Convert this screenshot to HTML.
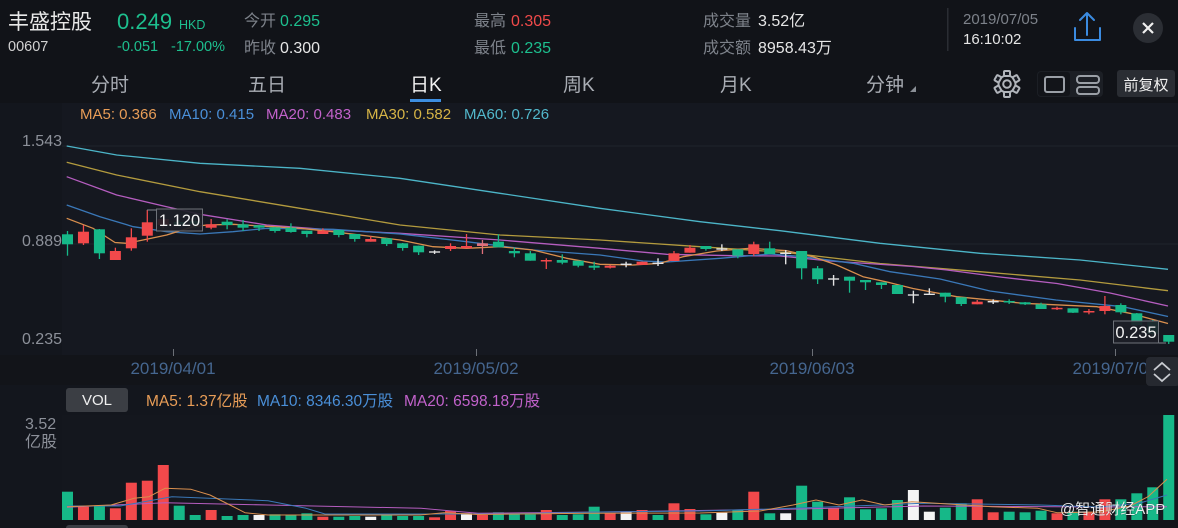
<!DOCTYPE html>
<html><head><meta charset="utf-8"><style>
html,body{margin:0;padding:0;background:#111318;}
body{width:1178px;height:528px;overflow:hidden;}
svg{display:block;font-family:"Liberation Sans","Noto Sans CJK SC",sans-serif;}
</style></head><body>
<svg width="1178" height="528" viewBox="0 0 1178 528" xmlns="http://www.w3.org/2000/svg">
<rect x="0" y="0" width="1178" height="528" fill="#111318"/>
<!-- chart panel -->
<rect x="0" y="103" width="1178" height="252" fill="#13161d"/>
<rect x="62" y="103" width="1116" height="252" fill="#151820"/>
<rect x="0" y="355" width="1178" height="30" fill="#121419"/>
<rect x="0" y="385" width="1178" height="143" fill="#13161d"/>
<rect x="62" y="415" width="1116" height="105" fill="#14171e"/>

<!-- header -->
<text x="8" y="29" font-size="21" fill="#e8e8e8">丰盛控股</text>
<text x="8" y="51" font-size="14.5" fill="#d2d2d2">00607</text>
<text x="117" y="29" font-size="22" fill="#1dbf8e">0.249</text>
<text x="179" y="29" font-size="12.5" fill="#1dbf8e">HKD</text>
<text x="117" y="51" font-size="14.5" fill="#1dbf8e">-0.051</text>
<text x="171" y="51" font-size="14.5" fill="#1dbf8e">-17.00%</text>
<g font-size="16">
<text x="244" y="26" fill="#7d828a">今开</text>
<text x="280" y="26" fill="#1dbf8e">0.295</text>
<text x="244" y="53" fill="#7d828a">昨收</text>
<text x="280" y="53" fill="#e6e6e6">0.300</text>
<text x="474" y="26" fill="#7d828a">最高</text>
<text x="511" y="26" fill="#f04a4a">0.305</text>
<text x="474" y="53" fill="#7d828a">最低</text>
<text x="511" y="53" fill="#1dbf8e">0.235</text>
<text x="703" y="26" fill="#7d828a">成交量</text>
<text x="758" y="26" fill="#e6e6e6">3.52亿</text>
<text x="703" y="53" fill="#7d828a">成交额</text>
<text x="758" y="53" fill="#e6e6e6">8958.43万</text>
</g>
<rect x="947" y="8" width="1.5" height="43" fill="#2a2d33"/>
<text x="963" y="24" font-size="15" fill="#7d828a">2019/07/05</text>
<text x="963" y="44" font-size="15" fill="#e6e6e6">16:10:02</text>
<!-- upload icon -->
<g stroke="#3b8be0" stroke-width="2" fill="none" stroke-linecap="round" stroke-linejoin="round">
<path d="M1087 35 V13 M1080 20 L1087 13 L1094 20"/>
<path d="M1075 28 V40 H1100 V28"/>
</g>
<!-- close -->
<circle cx="1148" cy="28" r="15" fill="#2b2e34"/>
<path d="M1143 23 L1153 33 M1153 23 L1143 33" stroke="#f0f0f0" stroke-width="2.2"/>

<!-- tabs -->
<g font-size="19" fill="#a9adb4">
<text x="91" y="91">分时</text>
<text x="248" y="91">五日</text>
<text x="410" y="91" fill="#f2f2f2">日K</text>
<text x="563" y="91">周K</text>
<text x="720" y="91">月K</text>
<text x="866" y="91">分钟</text>
</g>
<path d="M910 92 L916 86 L916 92 Z" fill="#8a8f96"/>
<rect x="410" y="99" width="31" height="3" fill="#3d8ee0"/>
<!-- gear -->
<g transform="translate(1007,84)" fill="none" stroke="#b0b4ba" stroke-width="2">
<circle r="8.5"/>
<circle r="3.8"/>
<g fill="#151820">
<rect x="-3" y="-13" width="6" height="5" rx="1"/>
<rect x="-3" y="-13" width="6" height="5" rx="1" transform="rotate(60)"/>
<rect x="-3" y="-13" width="6" height="5" rx="1" transform="rotate(120)"/>
<rect x="-3" y="-13" width="6" height="5" rx="1" transform="rotate(180)"/>
<rect x="-3" y="-13" width="6" height="5" rx="1" transform="rotate(240)"/>
<rect x="-3" y="-13" width="6" height="5" rx="1" transform="rotate(300)"/>
</g>
</g>
<!-- layout toggle -->
<rect x="1037" y="71" width="66" height="26" rx="4" fill="#1c1f25"/>
<rect x="1038" y="72" width="32" height="24" rx="3" fill="#121419"/>
<rect x="1045" y="77" width="19" height="15" rx="2" fill="none" stroke="#9a9fa6" stroke-width="2"/>
<rect x="1077" y="76" width="22" height="7" rx="3" fill="none" stroke="#9a9fa6" stroke-width="2"/>
<rect x="1077" y="87" width="22" height="7" rx="3" fill="none" stroke="#9a9fa6" stroke-width="2"/>
<!-- 前复权 -->
<rect x="1117" y="70" width="58" height="27" rx="3" fill="#2a2d33"/>
<text x="1146" y="90" font-size="15" fill="#f0f0f0" text-anchor="middle">前复权</text>

<!-- MA legend -->
<g font-size="15">
<text x="80" y="119" fill="#e89d57">MA5: 0.366</text>
<text x="169" y="119" fill="#4a8fd8">MA10: 0.415</text>
<text x="266" y="119" fill="#c262cb">MA20: 0.483</text>
<text x="366" y="119" fill="#d6b446">MA30: 0.582</text>
<text x="464" y="119" fill="#52b8cc">MA60: 0.726</text>
</g>

<!-- grid -->
<g stroke="#1f232b" stroke-width="1">
<line x1="62" y1="146" x2="1178" y2="146"/>
<line x1="62" y1="244" x2="1178" y2="244"/>
</g>
<!-- y labels -->
<g font-size="16" fill="#8c9099" text-anchor="end">
<text x="62" y="146">1.543</text>
<text x="62" y="246">0.889</text>
<text x="62" y="344">0.235</text>
</g>

<!-- MA lines -->
<g fill="none" stroke-width="1.3" stroke-linejoin="round">
<polyline stroke="#4cb5c8" points="66.7,146 116.7,155 200,163.3 300,168.3 400,178.3 500,193.3 600,208.3 700,221.7 780,230.7 880,243.3 980,253.3 1080,260 1168,269.3"/>
<polyline stroke="#b39b3e" points="66.7,162.3 116.7,175 200,191.7 300,208.3 400,225 500,235 600,240 700,246.7 786,252.5 880,263.5 980,271.7 1080,280 1168,290.7"/>
<polyline stroke="#b55dbf" points="66.7,176.7 116.7,195 166.7,206.7 200,214.3 266.7,225 333,230 400,233.3 500,240 600,248.3 666.7,254.3 733,255.7 780,256 830,261 913,266.5 947,270 1000,277 1057,283.5 1110,293 1168,306"/>
<polyline stroke="#3a78b8" points="66.7,205 100,216.7 133.3,226.7 166.7,231.7 200,234 233,231.7 266.7,228.3 333,229.3 400,234 466.7,241.7 533,250 600,255 643,261 666.7,262 720,258.3 770,254 803,256.7 853,263.3 890,271.7 940,279 990,291 1056,300 1123,306.7 1168,316.5"/>
<polyline stroke="#d98f4e" points="66.7,218.3 93,228.3 115,242.5 126.7,243.3 143,240 166.7,235 193,226.7 207,225 233,224.3 300,228.3 333,231.7 400,240 433,246.7 466.7,248.3 500,246.7 533,250 566.7,258.3 600,264.3 633,265 660,263.3 683,256.7 716.7,251 750,248.3 786.7,250.7 813,256.7 836.7,265 863,276.7 890,282.7 913,288.5 956.7,296.7 1023,303.3 1096.7,306.7 1130,313.3 1168,323.5"/>
</g>

<!-- green candles -->
<g fill="#16b888" stroke="#16b888" stroke-width="1.3">
<line x1="67.5" y1="231" x2="67.5" y2="255.7"/><rect x="62" y="234.3" width="11" height="10" stroke="none"/>
<line x1="99.42" y1="229" x2="99.42" y2="259"/><rect x="93.92" y="229.3" width="11" height="24" stroke="none"/>
<line x1="179.22" y1="220" x2="179.22" y2="227"/><rect x="173.72" y="222" width="11" height="3" stroke="none"/>
<line x1="195.18" y1="218" x2="195.18" y2="228"/><rect x="189.68" y="221" width="11" height="3" stroke="none"/>
<line x1="227.1" y1="219.3" x2="227.1" y2="229.3"/><rect x="221.6" y="221.7" width="11" height="3.3" stroke="none"/>
<line x1="243.06" y1="220" x2="243.06" y2="231"/><rect x="237.56" y="224.3" width="11" height="3.4" stroke="none"/>
<line x1="259.02" y1="225" x2="259.02" y2="231"/><rect x="253.52" y="225.3" width="11" height="2.4" stroke="none"/>
<line x1="274.98" y1="227" x2="274.98" y2="232.7"/><rect x="269.48" y="227.3" width="11" height="3.7" stroke="none"/>
<line x1="290.94" y1="223.3" x2="290.94" y2="232.7"/><rect x="285.44" y="227.7" width="11" height="4.3" stroke="none"/>
<line x1="306.9" y1="230.7" x2="306.9" y2="237.3"/><rect x="301.4" y="230.7" width="11" height="3.3" stroke="none"/>
<line x1="338.82" y1="230" x2="338.82" y2="237.3"/><rect x="333.32" y="230" width="11" height="5" stroke="none"/>
<line x1="354.78" y1="234" x2="354.78" y2="241.7"/><rect x="349.28" y="234" width="11" height="5" stroke="none"/>
<line x1="386.7" y1="238" x2="386.7" y2="246"/><rect x="381.2" y="238.3" width="11" height="5.7" stroke="none"/>
<line x1="402.66" y1="243" x2="402.66" y2="250.7"/><rect x="397.16" y="243.3" width="11" height="4.7" stroke="none"/>
<line x1="418.62" y1="245.7" x2="418.62" y2="255"/><rect x="413.12" y="245.7" width="11" height="6.6" stroke="none"/>
<line x1="498.42" y1="234.3" x2="498.42" y2="247.3"/><rect x="492.92" y="241.7" width="11" height="5.6" stroke="none"/>
<line x1="514.38" y1="247.7" x2="514.38" y2="257.3"/><rect x="508.88" y="251" width="11" height="2.3" stroke="none"/>
<line x1="530.34" y1="251" x2="530.34" y2="260.7"/><rect x="524.84" y="253.3" width="11" height="7.4" stroke="none"/>
<line x1="562.26" y1="254.3" x2="562.26" y2="264.3"/><rect x="556.76" y="260" width="11" height="2.7" stroke="none"/>
<line x1="578.22" y1="260.7" x2="578.22" y2="267.3"/><rect x="572.72" y="260.7" width="11" height="5" stroke="none"/>
<line x1="594.18" y1="261.7" x2="594.18" y2="270"/><rect x="588.68" y="265.7" width="11" height="2" stroke="none"/>
<line x1="705.9" y1="246" x2="705.9" y2="250.7"/><rect x="700.4" y="246" width="11" height="3" stroke="none"/>
<line x1="737.82" y1="249.3" x2="737.82" y2="258.3"/><rect x="732.32" y="249.3" width="11" height="6.4" stroke="none"/>
<line x1="769.74" y1="241.7" x2="769.74" y2="254"/><rect x="764.24" y="248.3" width="11" height="5.7" stroke="none"/>
<line x1="801.66" y1="251" x2="801.66" y2="279.3"/><rect x="796.16" y="251" width="11" height="17.3" stroke="none"/>
<line x1="817.62" y1="266" x2="817.62" y2="284"/><rect x="812.12" y="268.3" width="11" height="11" stroke="none"/>
<line x1="849.54" y1="276.7" x2="849.54" y2="292.7"/><rect x="844.04" y="276.7" width="11" height="4" stroke="none"/>
<line x1="865.5" y1="280" x2="865.5" y2="290"/><rect x="860" y="280" width="11" height="2.3" stroke="none"/>
<line x1="881.46" y1="282.3" x2="881.46" y2="289"/><rect x="875.96" y="282.3" width="11" height="2.7" stroke="none"/>
<line x1="897.42" y1="285" x2="897.42" y2="294"/><rect x="891.92" y="285" width="11" height="9" stroke="none"/>
<line x1="945.3" y1="292.7" x2="945.3" y2="302.3"/><rect x="939.8" y="292.7" width="11" height="4" stroke="none"/>
<line x1="961.26" y1="297.3" x2="961.26" y2="306"/><rect x="955.76" y="297.3" width="11" height="6.7" stroke="none"/>
<line x1="1009.14" y1="299.3" x2="1009.14" y2="304"/><rect x="1003.64" y="301" width="11" height="1.5" stroke="none"/>
<line x1="1025.1" y1="302" x2="1025.1" y2="305"/><rect x="1019.6" y="302.3" width="11" height="2" stroke="none"/>
<line x1="1041.06" y1="302.7" x2="1041.06" y2="309"/><rect x="1035.56" y="304.3" width="11" height="4.7" stroke="none"/>
<line x1="1072.98" y1="308.3" x2="1072.98" y2="313"/><rect x="1067.48" y="308.3" width="11" height="4.4" stroke="none"/>
<line x1="1120.86" y1="303.3" x2="1120.86" y2="314.3"/><rect x="1115.36" y="305" width="11" height="7.3" stroke="none"/>
<line x1="1136.82" y1="313" x2="1136.82" y2="326"/><rect x="1131.32" y="313.3" width="11" height="11.7" stroke="none"/>
<line x1="1152.78" y1="320" x2="1152.78" y2="338"/><rect x="1147.28" y="322" width="11" height="12" stroke="none"/>
<line x1="1168.74" y1="335" x2="1168.74" y2="344"/><rect x="1163.24" y="335" width="11" height="6.7" stroke="none"/>
</g>
<!-- red candles -->
<g fill="#f2494b" stroke="#f2494b" stroke-width="1.3">
<line x1="83.46" y1="225" x2="83.46" y2="245"/><rect x="77.96" y="231.7" width="11" height="11.6" stroke="none"/>
<line x1="115.38" y1="247.7" x2="115.38" y2="260"/><rect x="109.88" y="251" width="11" height="9" stroke="none"/>
<line x1="131.34" y1="228.3" x2="131.34" y2="250.7"/><rect x="125.84" y="237.3" width="11" height="11" stroke="none"/>
<line x1="147.3" y1="210" x2="147.3" y2="241.7"/><rect x="141.8" y="222.3" width="11" height="13.4" stroke="none"/>
<line x1="163.26" y1="216" x2="163.26" y2="228"/><rect x="157.76" y="219" width="11" height="6" stroke="none"/>
<line x1="211.14" y1="219" x2="211.14" y2="229.3"/><rect x="205.64" y="224.3" width="11" height="3.4" stroke="none"/>
<line x1="322.86" y1="228.3" x2="322.86" y2="234"/><rect x="317.36" y="230.7" width="11" height="3.3" stroke="none"/>
<line x1="370.74" y1="236" x2="370.74" y2="241.7"/><rect x="365.24" y="239" width="11" height="2.7" stroke="none"/>
<line x1="450.54" y1="243.3" x2="450.54" y2="251"/><rect x="445.04" y="246" width="11" height="3" stroke="none"/>
<line x1="466.5" y1="234" x2="466.5" y2="248.3"/><rect x="461" y="246" width="11" height="2.3" stroke="none"/>
<line x1="482.46" y1="240" x2="482.46" y2="254" stroke="#e0707a"/><rect x="476.96" y="243.3" width="11" height="2.7" stroke="none" fill="#e0707a"/>
<line x1="546.3" y1="258.3" x2="546.3" y2="269"/><rect x="540.8" y="260" width="11" height="1.5" stroke="none"/>
<line x1="610.14" y1="265" x2="610.14" y2="268.5"/><rect x="604.64" y="265.7" width="11" height="2" stroke="none"/>
<line x1="642.06" y1="261.7" x2="642.06" y2="265"/><rect x="636.56" y="261.7" width="11" height="3.3" stroke="none"/>
<line x1="673.98" y1="251" x2="673.98" y2="261"/><rect x="668.48" y="253.3" width="11" height="7.7" stroke="none"/>
<line x1="689.94" y1="245" x2="689.94" y2="252.7"/><rect x="684.44" y="247.7" width="11" height="5" stroke="none"/>
<line x1="753.78" y1="241.7" x2="753.78" y2="256"/><rect x="748.28" y="244.3" width="11" height="9.7" stroke="none"/>
<line x1="977.22" y1="300" x2="977.22" y2="304.3"/><rect x="971.72" y="301.7" width="11" height="2.6" stroke="none"/>
<line x1="1057.02" y1="306.7" x2="1057.02" y2="310"/><rect x="1051.52" y="307.8" width="11" height="1.5" stroke="none"/>
<line x1="1088.94" y1="309" x2="1088.94" y2="314.3"/><rect x="1083.44" y="311" width="11" height="1.5" stroke="none"/>
<line x1="1104.9" y1="296" x2="1104.9" y2="314.3"/><rect x="1099.4" y="306" width="11" height="5" stroke="none"/>
</g>
<!-- white dojis -->
<g stroke="#e2e2e2" stroke-width="1.4">
<line x1="434.58" y1="250.3" x2="434.58" y2="254"/><line x1="429.08" y1="252" x2="440.08" y2="252"/>
<line x1="626.1" y1="261.7" x2="626.1" y2="267.3"/><line x1="620.6" y1="264.3" x2="631.6" y2="264.3"/>
<line x1="658.02" y1="258.3" x2="658.02" y2="266"/><line x1="652.52" y1="263.3" x2="663.52" y2="263.3"/>
<line x1="721.86" y1="244.3" x2="721.86" y2="251"/><line x1="716.36" y1="249" x2="727.36" y2="249"/>
<line x1="785.7" y1="250" x2="785.7" y2="264.3"/><line x1="780.2" y1="253.3" x2="791.2" y2="253.3"/>
<line x1="833.58" y1="275" x2="833.58" y2="285.7"/><line x1="828.08" y1="279" x2="839.08" y2="279"/>
<line x1="913.38" y1="290.7" x2="913.38" y2="303.3"/><line x1="907.88" y1="295" x2="918.88" y2="295"/>
<line x1="929.34" y1="288.3" x2="929.34" y2="295"/><line x1="923.84" y1="294.3" x2="934.84" y2="294.3"/>
<line x1="993.18" y1="299.3" x2="993.18" y2="304"/><line x1="987.68" y1="301.7" x2="998.68" y2="301.7"/>
</g>

<!-- price labels -->
<line x1="147" y1="210" x2="157" y2="210" stroke="#80848b" stroke-width="1"/>
<rect x="156.5" y="209" width="46" height="22" fill="#1d2027" fill-opacity="0.92" stroke="#6e7279" stroke-width="1"/>
<text x="179.5" y="226" font-size="16.5" fill="#f2f2f2" text-anchor="middle">1.120</text>
<line x1="1158" y1="343" x2="1166" y2="343" stroke="#80848b" stroke-width="1"/>
<rect x="1113.5" y="321" width="45" height="22" fill="#1d2027" fill-opacity="0.92" stroke="#6e7279" stroke-width="1"/>
<text x="1136" y="338" font-size="16.5" fill="#f2f2f2" text-anchor="middle">0.235</text>

<!-- date axis -->
<g stroke="#6b6f76" stroke-width="1">
<line x1="173.5" y1="349" x2="173.5" y2="356"/>
<line x1="476.5" y1="349" x2="476.5" y2="356"/>
<line x1="812.5" y1="349" x2="812.5" y2="356"/>
<line x1="1115.5" y1="349" x2="1115.5" y2="356"/>
</g>
<g font-size="17" fill="#45668f" text-anchor="middle">
<text x="173" y="374">2019/04/01</text>
<text x="476" y="374">2019/05/02</text>
<text x="812" y="374">2019/06/03</text>
<text x="1115" y="374">2019/07/02</text>
</g>
<rect x="1146" y="357" width="34" height="29" rx="4" fill="#262930"/>
<path d="M1154 370 L1162 363 L1170 370 M1154 374 L1162 381 L1170 374" fill="none" stroke="#c8cbd0" stroke-width="1.8"/>

<!-- volume header -->
<rect x="66" y="388" width="62" height="24" rx="3" fill="#3b3e44"/>
<text x="97" y="405" font-size="15" fill="#f0f0f0" text-anchor="middle">VOL</text>
<g font-size="15.5">
<text x="146" y="406" fill="#e89d57">MA5: 1.37亿股</text>
<text x="257" y="406" fill="#4a8fd8">MA10: 8346.30万股</text>
<text x="404" y="406" fill="#c262cb">MA20: 6598.18万股</text>
</g>
<text x="25" y="429" font-size="16" fill="#8c9099">3.52</text>
<text x="25" y="447" font-size="16" fill="#8c9099">亿股</text>

<!-- volume bars -->
<g fill="#16b888">
<rect x="62" y="491.7" width="11" height="28.3"/>
<rect x="93.92" y="505.7" width="11" height="14.3"/>
<rect x="173.72" y="505.7" width="11" height="14.3"/>
<rect x="189.68" y="515" width="11" height="5"/>
<rect x="221.6" y="516" width="11" height="4"/>
<rect x="237.56" y="515" width="11" height="5"/>
<rect x="269.48" y="514.3" width="11" height="5.7"/>
<rect x="285.44" y="515" width="11" height="5"/>
<rect x="301.4" y="513.3" width="11" height="6.7"/>
<rect x="333.32" y="516.7" width="11" height="3.3"/>
<rect x="349.28" y="516" width="11" height="4"/>
<rect x="381.2" y="514.3" width="11" height="5.7"/>
<rect x="397.16" y="516" width="11" height="4"/>
<rect x="413.12" y="516" width="11" height="4"/>
<rect x="492.92" y="512.3" width="11" height="7.7"/>
<rect x="508.88" y="514.3" width="11" height="5.7"/>
<rect x="524.84" y="514.3" width="11" height="5.7"/>
<rect x="556.76" y="515" width="11" height="5"/>
<rect x="572.72" y="514.3" width="11" height="5.7"/>
<rect x="588.68" y="506.7" width="11" height="13.3"/>
<rect x="652.52" y="515" width="11" height="5"/>
<rect x="700.4" y="514.3" width="11" height="5.7"/>
<rect x="732.32" y="510" width="11" height="10"/>
<rect x="764.24" y="513.3" width="11" height="6.7"/>
<rect x="796.16" y="485.7" width="11" height="34.3"/>
<rect x="812.12" y="501.7" width="11" height="18.3"/>
<rect x="844.04" y="497.3" width="11" height="22.7"/>
<rect x="860" y="509.3" width="11" height="10.7"/>
<rect x="875.96" y="508.3" width="11" height="11.7"/>
<rect x="891.92" y="500" width="11" height="20"/>
<rect x="939.8" y="507.7" width="11" height="12.3"/>
<rect x="955.76" y="503.3" width="11" height="16.7"/>
<rect x="1003.64" y="511.7" width="11" height="8.3"/>
<rect x="1019.6" y="512.3" width="11" height="7.7"/>
<rect x="1035.56" y="510.7" width="11" height="9.3"/>
<rect x="1067.48" y="511.7" width="11" height="8.3"/>
<rect x="1115.36" y="499.3" width="11" height="20.7"/>
<rect x="1131.32" y="493.3" width="11" height="26.7"/>
<rect x="1147.28" y="487.3" width="11" height="32.7"/>
<rect x="1163.24" y="415" width="11" height="105"/>
</g>
<g fill="#f2494b">
<rect x="77.96" y="506.7" width="11" height="13.3"/>
<rect x="109.88" y="508.3" width="11" height="11.7"/>
<rect x="125.84" y="482.7" width="11" height="37.3"/>
<rect x="141.8" y="480.7" width="11" height="39.3"/>
<rect x="157.76" y="465" width="11" height="55"/>
<rect x="205.64" y="510" width="11" height="10"/>
<rect x="317.36" y="516.7" width="11" height="3.3"/>
<rect x="429.08" y="517.3" width="11" height="2.7"/>
<rect x="445.04" y="511" width="11" height="9"/>
<rect x="476.96" y="515" width="11" height="5"/>
<rect x="540.8" y="510" width="11" height="10"/>
<rect x="604.64" y="513.3" width="11" height="6.7"/>
<rect x="636.56" y="510" width="11" height="10"/>
<rect x="668.48" y="503.3" width="11" height="16.7"/>
<rect x="684.44" y="509" width="11" height="11"/>
<rect x="748.28" y="491.7" width="11" height="28.3"/>
<rect x="828.08" y="508.3" width="11" height="11.7"/>
<rect x="971.72" y="499.3" width="11" height="20.7"/>
<rect x="987.68" y="512.3" width="11" height="7.7"/>
<rect x="1051.52" y="513.3" width="11" height="6.7"/>
<rect x="1083.44" y="511.7" width="11" height="8.3"/>
<rect x="1099.4" y="499.3" width="11" height="20.7"/>
</g>
<g fill="#f4f4f4">
<rect x="253.52" y="515" width="11" height="5"/>
<rect x="365.24" y="516.7" width="11" height="3.3"/>
<rect x="461" y="513.3" width="11" height="6.7"/>
<rect x="620.6" y="511.7" width="11" height="8.3"/>
<rect x="716.36" y="512.7" width="11" height="7.3"/>
<rect x="780.2" y="513.3" width="11" height="6.7"/>
<rect x="907.88" y="490" width="11" height="30"/>
<rect x="923.84" y="511.7" width="11" height="8.3"/>
</g>
<!-- volume MA lines -->
<g fill="none" stroke-width="1" stroke-linejoin="round">
<polyline stroke="#b55dbf" points="67,507.3 165,502.7 268,505 421,508.3 478,513.3 600,512 800,509 923,506 1100,507 1167,506.7"/>
<polyline stroke="#3a78b8" points="67,506 120,506 172,496.7 268,500.7 306,508.3 325,514 500,514 600,512 700,511 793,508.3 923,503.3 1040,505 1100,507 1140,503 1167,495"/>
<polyline stroke="#d98f4e" points="67,506.7 111,505 134,498.3 149,496.7 165,488.3 191,489.3 210,495 230,505 245,512.7 268,515 420,515 444,512.7 478,514.5 589,513.3 700,513 760,511 793,505 816,500 839,505 862,500 885,505 912,501.7 992,506.7 1038,508.3 1057,512.7 1100,512 1130,506 1148,496.7 1167,479.3"/>
</g>
<rect x="0" y="520" width="1178" height="8" fill="#121419"/>
<rect x="66" y="525" width="62" height="6" rx="3" fill="#3b3e44"/>
<!-- watermark -->
<text x="1060" y="514" font-size="15" fill="#ffffff" fill-opacity="0.9" stroke="#000000" stroke-opacity="0.35" stroke-width="0.6" paint-order="stroke">@智通财经APP</text>
</svg>
</body></html>
